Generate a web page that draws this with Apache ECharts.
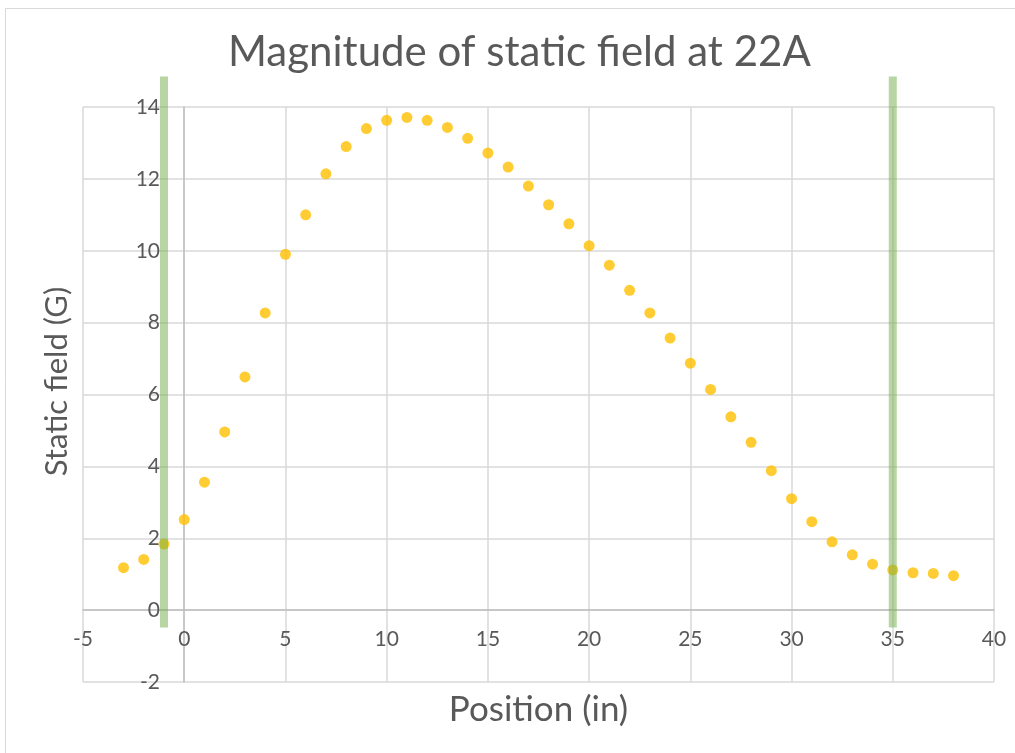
<!DOCTYPE html>
<html>
<head>
<meta charset="utf-8">
<script src="https://cdn.jsdelivr.net/npm/echarts@6/dist/echarts.min.js"></script>
<style>
  html, body { margin: 0; padding: 0; background: #fff; }
  #chart { width: 1015px; height: 753px; }
</style>
</head>
<body>
<div id="chart"></div>
<script>
var positions = [-3, -2, -1, 0, 1, 2, 3, 4, 5, 6, 7, 8, 9, 10, 11, 12, 13, 14, 15, 16, 17, 18, 19, 20,
    21, 22, 23, 24, 25, 26, 27, 28, 29, 30, 31, 32, 33, 34, 35, 36, 37, 38];
var fieldValues = [1.18, 1.41, 1.84, 2.52, 3.56, 4.96, 6.49, 8.27, 9.9, 11.0, 12.14, 12.9, 13.4, 13.63,
    13.71, 13.63, 13.43, 13.13, 12.72, 12.33, 11.8, 11.28, 10.75, 10.14, 9.6, 8.9, 8.27, 7.57,
    6.87, 6.14, 5.38, 4.67, 3.88, 3.1, 2.46, 1.9, 1.54, 1.28, 1.12, 1.04, 1.02, 0.96];
// green marker lines (position, from, to)
var markerPositions = [-1, 35];
var markerRange = [-0.48, 14.85];

var myChart = echarts.init(document.getElementById('chart'));

var scatterData = positions.map(function (p, i) { return [p, fieldValues[i]]; });

var markerSeries = markerPositions.map(function (p) {
    return {
        type: 'line',
        data: [[p, markerRange[0]], [p, markerRange[1]]],
        symbol: 'none',
        clip: false,
        silent: true,
        z: 5,
        lineStyle: { color: 'rgba(112,173,71,0.5)', width: 8 }
    };
});

var textColor = '#595959';
var fontFam = 'Lato, "Open Sans", sans-serif';

// plot box: x -5..40 over 911px, y -2..14 over 575px
// axes sit on zero, so shift them in by offset
option = {
    animation: false,
    title: {
        text: 'Magnitude of static field at 22A',
        left: 223,
        top: 26,
        textStyle: { color: textColor, fontSize: 42, fontWeight: 'normal', fontFamily: fontFam }
    },
    graphic: [{
        type: 'rect',
        shape: { x: 5.5, y: 8.5, width: 1200, height: 900 },
        style: { fill: 'none', stroke: '#d9d9d9', lineWidth: 1 },
        silent: true
    }],
    grid: { left: 83, right: 21, top: 107, bottom: 71, containLabel: false, outerBoundsMode: 'none' },
    xAxis: {
        type: 'value',
        min: -5,
        max: 40,
        interval: 5,
        position: 'bottom',
        offset: -72,
        name: 'Position (in)',
        nameLocation: 'middle',
        nameGap: 82,
        nameMoveOverlap: false,
        nameTextStyle: { color: textColor, fontSize: 35, fontFamily: fontFam },
        axisLine: { onZero: false, lineStyle: { color: '#bfbfbf', width: 1.5 } },
        axisTick: { show: false },
        axisLabel: { color: textColor, fontSize: 21, margin: 19, fontFamily: fontFam },
        splitLine: { show: true, lineStyle: { color: '#d9d9d9', width: 1.5 } }
    },
    yAxis: {
        type: 'value',
        min: -2,
        max: 14,
        interval: 2,
        position: 'left',
        offset: -101,
        name: 'Static field (G)',
        nameLocation: 'middle',
        nameGap: 112,
        nameMoveOverlap: false,
        nameTextStyle: { color: textColor, fontSize: 31, fontFamily: fontFam, padding: [0, 0, 0, 26] },
        axisLine: { show: true, onZero: false, lineStyle: { color: '#bfbfbf', width: 1.5 } },
        axisTick: { show: false },
        axisLabel: { color: textColor, fontSize: 21, margin: 24, fontFamily: fontFam },
        splitLine: { show: true, lineStyle: { color: '#d9d9d9', width: 1.5 } }
    },
    series: [{
        type: 'scatter',
        data: scatterData,
        symbol: 'circle',
        symbolSize: 11,
        z: 3,
        itemStyle: { color: '#ffc000' }
    }].concat(markerSeries)
};

myChart.setOption(option);
</script>
</body>
</html>
